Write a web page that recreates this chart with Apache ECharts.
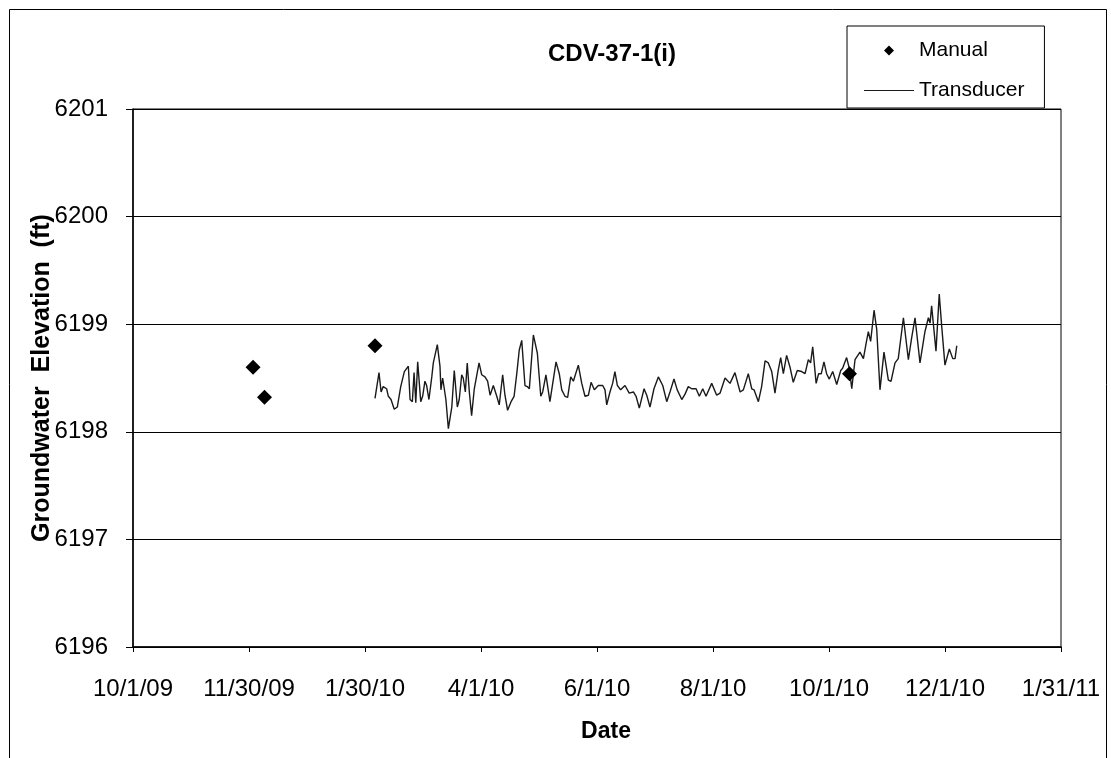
<!DOCTYPE html>
<html>
<head>
<meta charset="utf-8">
<script src="https://cdn.jsdelivr.net/npm/echarts@6/dist/echarts.min.js"></script>
<style>
html,body{margin:0;padding:0;background:#fff;}
#chart{width:1111px;height:758px;}
</style>
</head>
<body>
<div id="chart"></div>
<script>
// x values are days since 10/1/2009
var xTickLabels = ['10/1/09','11/30/09','1/30/10','4/1/10','6/1/10','8/1/10','10/1/10','12/1/10','1/31/11'];
var yTickLabels = ['6196','6197','6198','6199','6200','6201'];

var manualDay = [63, 69, 127, 376];
var manualValue = [6198.60, 6198.32, 6198.80, 6198.54];

var transducerDay = [
127.0,128.0,129.1,130.2,131.3,133.1,134.0,135.4,137.1,138.7,140.5,142.4,144.5,145.4,146.6,147.5,148.4,149.4,151.0,152.0,
153.2,154.1,155.3,156.8,157.6,159.7,161.1,161.6,162.5,163.2,164.2,165.5,167.3,168.6,170.2,171.2,172.5,173.3,174.4,175.4,
176.5,177.7,179.1,181.6,183.0,184.7,186.1,187.4,189.1,190.9,192.2,194.0,195.2,196.6,198.4,200.0,201.4,202.7,204.0,205.7,
206.9,208.0,210.1,212.2,214.0,215.0,216.7,218.8,222.0,223.7,225.0,226.7,228.1,229.7,231.1,233.7,235.5,237.2,239.0,240.4,
242.1,244.2,246.5,247.7,248.6,250.3,251.7,252.9,254.2,255.9,258.2,260.4,262.6,264.0,265.7,268.2,269.6,271.3,273.4,275.7,
278.0,280.1,281.8,283.9,285.6,288.0,289.7,291.4,293.2,295.5,297.2,299.0,300.7,303.7,306.3,308.1,310.7,313.3,315.9,318.6,
320.3,322.9,324.7,325.9,328.2,329.9,331.7,333.4,335.2,336.9,338.6,339.9,341.3,343.0,344.8,346.5,348.6,350.9,352.7,354.4,
355.6,356.7,358.5,359.8,361.2,362.6,364.0,365.4,367.2,369.3,371.4,372.4,374.5,375.9,377.2,378.9,381.5,383.3,384.7,385.9,
387.1,388.9,390.3,392.0,394.1,396.4,397.8,399.9,401.6,404.3,406.9,408.6,410.4,413.0,415.6,417.4,418.3,419.1,421.4,423.1,
424.4,426.1,428.4,430.2,431.4,432.3
];
var transducerValue = [
6198.31,6198.32,6198.55,6198.37,6198.42,6198.40,6198.33,6198.30,6198.21,6198.23,6198.42,6198.56,6198.61,6198.30,6198.28,6198.55,6198.27,6198.65,6198.28,6198.33,
6198.47,6198.43,6198.30,6198.51,6198.64,6198.81,6198.61,6198.39,6198.50,6198.49,6198.30,6198.03,6198.23,6198.57,6198.23,6198.30,6198.53,6198.50,6198.37,6198.64,
6198.37,6198.15,6198.40,6198.64,6198.53,6198.51,6198.47,6198.34,6198.43,6198.33,6198.25,6198.53,6198.34,6198.20,6198.28,6198.33,6198.54,6198.76,6198.85,6198.43,
6198.42,6198.40,6198.90,6198.73,6198.33,6198.37,6198.53,6198.28,6198.65,6198.54,6198.39,6198.33,6198.32,6198.51,6198.47,6198.62,6198.45,6198.33,6198.34,6198.46,
6198.39,6198.43,6198.43,6198.39,6198.25,6198.37,6198.45,6198.56,6198.43,6198.39,6198.43,6198.36,6198.37,6198.33,6198.22,6198.40,6198.34,6198.23,6198.40,6198.51,
6198.43,6198.28,6198.37,6198.49,6198.39,6198.30,6198.35,6198.42,6198.40,6198.40,6198.33,6198.40,6198.33,6198.45,6198.34,6198.36,6198.50,6198.45,6198.55,6198.37,
6198.39,6198.54,6198.40,6198.39,6198.28,6198.42,6198.66,6198.64,6198.56,6198.36,6198.57,6198.69,6198.54,6198.71,6198.60,6198.46,6198.57,6198.56,6198.54,6198.67,
6198.64,6198.79,6198.45,6198.54,6198.54,6198.65,6198.54,6198.49,6198.56,6198.44,6198.57,6198.59,6198.69,6198.59,6198.40,6198.67,6198.74,6198.68,6198.82,6198.93,
6198.84,6199.13,6198.95,6198.39,6198.74,6198.48,6198.47,6198.64,6198.68,6199.06,6198.67,6198.87,6199.06,6198.64,6198.93,6199.06,6199.01,6199.17,6198.75,6199.28,
6198.98,6198.62,6198.77,6198.68,6198.68,6198.80
];

var manualData = manualDay.map(function(d, i){ return [d, manualValue[i]]; });
var transducerData = transducerDay.map(function(d, i){ return [d, transducerValue[i]]; });

var FONT = '"Liberation Sans", Arial, sans-serif';
var X_INTERVAL = 487 / 8;

// legend icons: bounding box 50x12 kept by degenerate sub-paths
var ICON_DIAMOND = 'path://M25,1L30,6L25,11L20,6Z M0,0L0,0Z M50,12L50,12Z';
var ICON_LINE = 'path://M0,5.4L50,5.4L50,6.6L0,6.6Z M0,0L0,0Z M50,12L50,12Z';

var chart = echarts.init(document.getElementById('chart'), null, {renderer: 'canvas'});
chart.setOption({
  backgroundColor: '#ffffff',
  animation: false,
  title: {
    text: 'CDV-37-1(i)',
    left: 607,
    top: 37,
    textAlign: 'center',
    textStyle: {fontFamily: FONT, fontSize: 24, fontWeight: 'bold', color: '#000'}
  },
  legend: {
    orient: 'vertical',
    left: 847,
    top: 26,
    padding: [14, 20, 7, 17],
    itemGap: 19,
    itemWidth: 50,
    itemHeight: 12,
    backgroundColor: '#ffffff',
    borderColor: '#000',
    borderWidth: 1,
    borderRadius: 0,
    textStyle: {fontFamily: FONT, fontSize: 21, color: '#000'},
    data: [
      {name: 'Manual', icon: ICON_DIAMOND},
      {name: 'Transducer', icon: ICON_LINE}
    ]
  },
  grid: {
    left: 133, top: 109, right: 50, bottom: 111,
    show: true, borderColor: '#000', borderWidth: 1, containLabel: false
  },
  xAxis: {
    type: 'value',
    min: 0,
    max: 487,
    interval: X_INTERVAL,
    name: 'Date',
    nameLocation: 'middle',
    nameGap: 73,
    nameMoveOverlap: false,
    nameTextStyle: {fontFamily: FONT, fontSize: 23, fontWeight: 'bold', color: '#000', padding: [0, 0, 0, 18]},
    axisLine: {show: true, lineStyle: {color: '#000', width: 1.5}},
    axisTick: {show: true, length: 5, lineStyle: {color: '#000'}},
    splitLine: {show: false},
    axisLabel: {
      margin: 30,
      fontFamily: FONT, fontSize: 24, color: '#000',
      formatter: function(v){ return xTickLabels[Math.round(v / X_INTERVAL)] || ''; }
    }
  },
  yAxis: {
    type: 'value',
    min: 6196,
    max: 6201,
    interval: 1,
    name: 'Groundwater  Elevation  (ft)',
    nameLocation: 'middle',
    nameRotate: 90,
    nameGap: 78,
    nameMoveOverlap: false,
    nameTextStyle: {fontFamily: FONT, fontSize: 25, fontWeight: 'bold', color: '#000'},
    axisLine: {show: true, lineStyle: {color: '#000', width: 1.5}},
    axisTick: {show: true, length: 7, lineStyle: {color: '#000'}},
    splitLine: {show: true, lineStyle: {color: '#000', width: 1}},
    axisLabel: {
      margin: 25,
      fontFamily: FONT, fontSize: 24, color: '#000',
      formatter: function(v){ return yTickLabels[Math.round(v - 6196)]; }
    }
  },
  graphic: [
    {
      type: 'rect',
      left: 7, top: 7,
      shape: {width: 1097, height: 800},
      style: {fill: 'none', stroke: '#000', lineWidth: 1},
      silent: true, z: -1
    }
  ],
  series: [
    {
      name: 'Manual',
      type: 'scatter',
      symbol: 'diamond',
      symbolSize: 15,
      itemStyle: {color: '#000', opacity: 1},
      data: manualData,
      z: 5
    },
    {
      name: 'Transducer',
      type: 'line',
      showSymbol: false,
      symbol: 'none',
      lineStyle: {color: '#1a1a1a', width: 1.4},
      itemStyle: {color: '#1a1a1a'},
      data: transducerData,
      z: 4
    }
  ]
});
</script>
</body>
</html>
